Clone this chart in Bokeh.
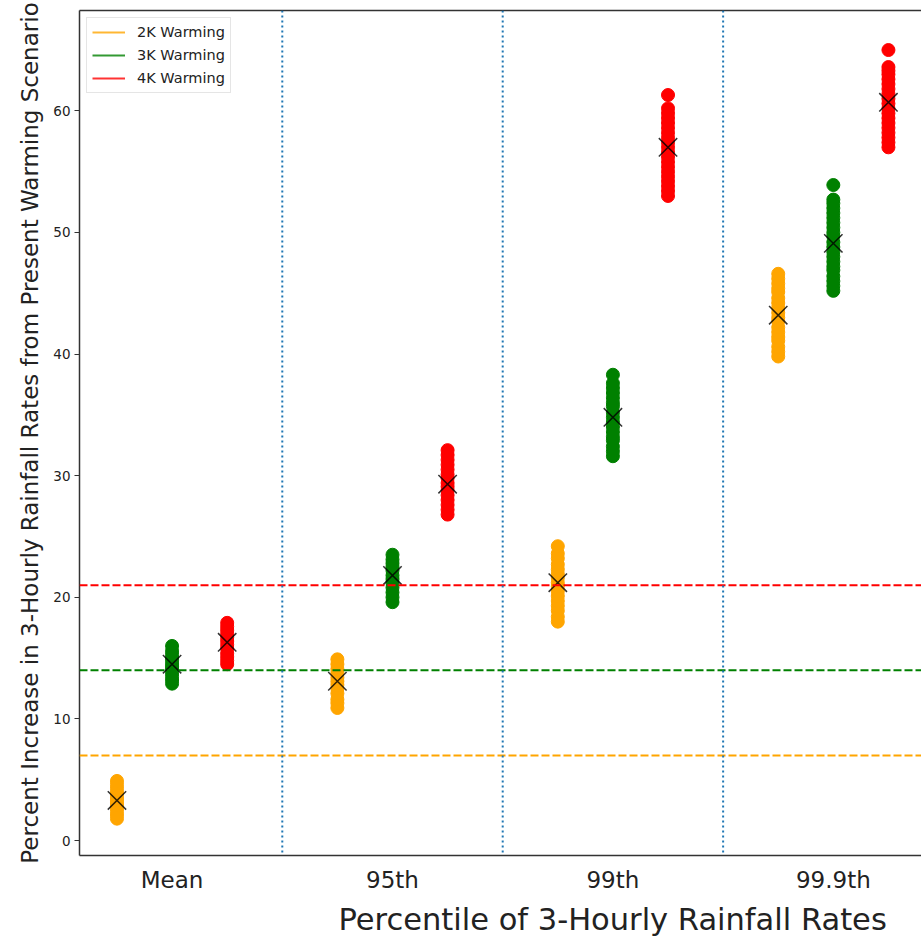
from bokeh.plotting import figure
from bokeh.models import (ColumnDataSource, Range1d, FixedTicker, LinearAxis,
                          Span, Legend, LegendItem, Title)
from bokeh.embed import file_html
from bokeh.resources import INLINE

# ---------------- data ----------------
categories = ["Mean", "95th", "99th", "99.9th"]
scenarios = ["2K Warming", "3K Warming", "4K Warming"]
colors = ["orange", "green", "red"]
thresholds = [7, 14, 21]          # horizontal reference lines (%)
separators = [0.5, 1.5, 2.5]      # dividers between categories
y_ticks = [0, 10, 20, 30, 40, 50, 60]

# ensemble member values (percent increase) per category
warm2k = [
    [1.8, 2.1, 2.4, 2.7, 2.9, 3.1, 3.3, 3.5, 3.8, 4.0, 4.3, 4.6, 4.9],
    [10.9, 11.3, 11.6, 12.1, 12.5, 12.8, 13.1, 13.4, 13.8, 14.1, 14.5, 14.9],
    [18.0, 18.4, 18.9, 19.3, 19.7, 20.1, 20.5, 20.9, 21.2, 21.6, 21.9, 22.3,
     22.7, 23.2, 23.6, 24.2],
    [39.8, 40.2, 40.6, 41.1, 41.4, 41.8, 42.2, 42.7, 43.0, 43.4, 43.8, 44.2,
     44.6, 45.1, 45.4, 45.8, 46.2, 46.6],
]
warm3k = [
    [12.9, 13.2, 13.5, 13.8, 14.1, 14.3, 14.5, 14.8, 15.0, 15.3, 15.6, 16.0],
    [19.6, 20.0, 20.4, 20.8, 21.2, 21.5, 21.8, 22.2, 22.5, 22.8, 23.1, 23.5],
    [31.6, 32.0, 32.4, 32.9, 33.2, 33.6, 34.0, 34.4, 34.8, 35.2, 35.7, 36.0,
     36.4, 36.8, 37.2, 37.6, 38.3],
    [45.2, 45.6, 46.0, 46.4, 46.9, 47.2, 47.6, 48.0, 48.4, 48.8, 49.2, 49.7,
     50.0, 50.4, 50.8, 51.2, 51.6, 52.0, 52.4, 52.7, 53.9],
]
warm4k = [
    [14.5, 14.8, 15.1, 15.4, 15.8, 16.1, 16.4, 16.7, 17.0, 17.3, 17.6, 17.9],
    [26.8, 27.2, 27.6, 28.0, 28.4, 28.8, 29.1, 29.4, 29.8, 30.1, 30.5, 30.9,
     31.3, 31.7, 32.1],
    [53.0, 53.4, 53.8, 54.2, 54.6, 55.0, 55.4, 55.8, 56.2, 56.6, 57.0, 57.4,
     57.8, 58.2, 58.6, 59.0, 59.4, 59.8, 60.2, 61.3],
    [57.0, 57.4, 57.8, 58.2, 58.6, 59.0, 59.4, 59.8, 60.2, 60.6, 61.0, 61.4,
     61.8, 62.2, 62.6, 63.0, 63.3, 63.6, 65.0],
]
mean2k = [3.3, 13.1, 21.2, 43.2]
mean3k = [14.5, 21.8, 34.8, 49.1]
mean4k = [16.3, 29.3, 57.0, 60.7]

members = [warm2k, warm3k, warm4k]
means = [mean2k, mean3k, mean4k]

FONT = "DejaVu Sans"
NAN = float("nan")

p = figure(width=921, height=940, output_backend="svg", toolbar_location=None,
           x_range=Range1d(-0.42, 3.40), y_range=Range1d(-1.23, 68.25),
           min_border_left=79, min_border_right=0, min_border_top=10,
           min_border_bottom=10)
p.outline_line_color = None
p.grid.visible = False
p.background_fill_color = "white"
p.border_fill_color = "white"

offset_step = 0.25
legend_items = []
for si, (vals, mvals, col, name) in enumerate(zip(members, means, colors, scenarios)):
    off = (si - 1) * offset_step
    xs, ys = [], []
    for ci, arr in enumerate(vals):
        xs += [ci + off] * len(arr)
        ys += arr
    src = ColumnDataSource(dict(x=xs, y=ys))
    p.scatter(x="x", y="y", source=src, size=13, marker="circle",
              fill_color=col, line_color=col)
    msrc = ColumnDataSource(dict(x=[ci + off for ci in range(len(mvals))], y=mvals))
    p.scatter(x="x", y="y", source=msrc, marker="x", size=26,
              line_color="black", line_width=1.5, line_alpha=0.8)
    dummy = p.line(x=[NAN], y=[NAN], line_color=col, line_width=2, line_alpha=0.8)
    legend_items.append(LegendItem(label=name, renderers=[dummy]))

for t, col in zip(thresholds, colors):
    p.add_layout(Span(location=t, dimension="width", line_color=col,
                      line_dash="8 3", line_width=2))
for s in separators:
    p.add_layout(Span(location=s, dimension="height", line_color="#1f77b4",
                      line_dash="2 3", line_width=2))

legend = Legend(items=legend_items, location="top_left")
legend.label_text_font = FONT
legend.label_text_font_size = "14.5px"
legend.label_text_color = "#222222"
legend.glyph_width = 33
legend.glyph_height = 18
legend.label_height = 18
legend.spacing = 5
legend.padding = 5
legend.margin = 7
legend.label_standoff = 12
legend.border_line_color = "#cccccc"
legend.border_line_width = 1
legend.background_fill_alpha = 0.85
p.add_layout(legend)

# axes
xa = p.xaxis[0]
xa.ticker = FixedTicker(ticks=list(range(len(categories))))
xa.major_label_overrides = {i: c for i, c in enumerate(categories)}
xa.major_label_text_font = FONT
xa.major_label_text_font_size = "23px"
xa.major_label_text_color = "#222222"
xa.major_tick_line_color = None
xa.minor_tick_line_color = None
xa.major_label_standoff = 5
xa.axis_line_color = "#333333"
xa.axis_line_width = 1.5

ya = p.yaxis[0]
ya.ticker = FixedTicker(ticks=y_ticks)
ya.major_label_text_font = FONT
ya.major_label_text_font_size = "13.5px"
ya.major_label_text_color = "#222222"
ya.major_tick_in = 0
ya.major_tick_out = 5
ya.major_tick_line_color = "#333333"
ya.minor_tick_line_color = None
ya.major_label_standoff = 4
ya.axis_line_color = "#333333"
ya.axis_line_width = 1.5
ya.axis_label = "Percent Increase in 3-Hourly Rainfall Rates from Present Warming Scenario"
ya.axis_label_text_font = FONT
ya.axis_label_text_font_size = "23px"
ya.axis_label_text_font_style = "normal"
ya.axis_label_text_color = "#222222"
ya.axis_label_standoff = 7

top = LinearAxis(ticker=FixedTicker(ticks=[]), major_label_text_font_size="0px",
                 major_tick_line_color=None, minor_tick_line_color=None,
                 axis_line_color="#333333", axis_line_width=1.5)
p.add_layout(top, "above")

xtitle = Title(text="Percentile of 3-Hourly Rainfall Rates", align="left",
               offset=259, text_font=FONT, text_font_size="30.5px",
               text_font_style="normal", text_color="#222222", standoff=8)
p.add_layout(xtitle, "below")

open("out.html", "w").write(file_html(p, INLINE))
